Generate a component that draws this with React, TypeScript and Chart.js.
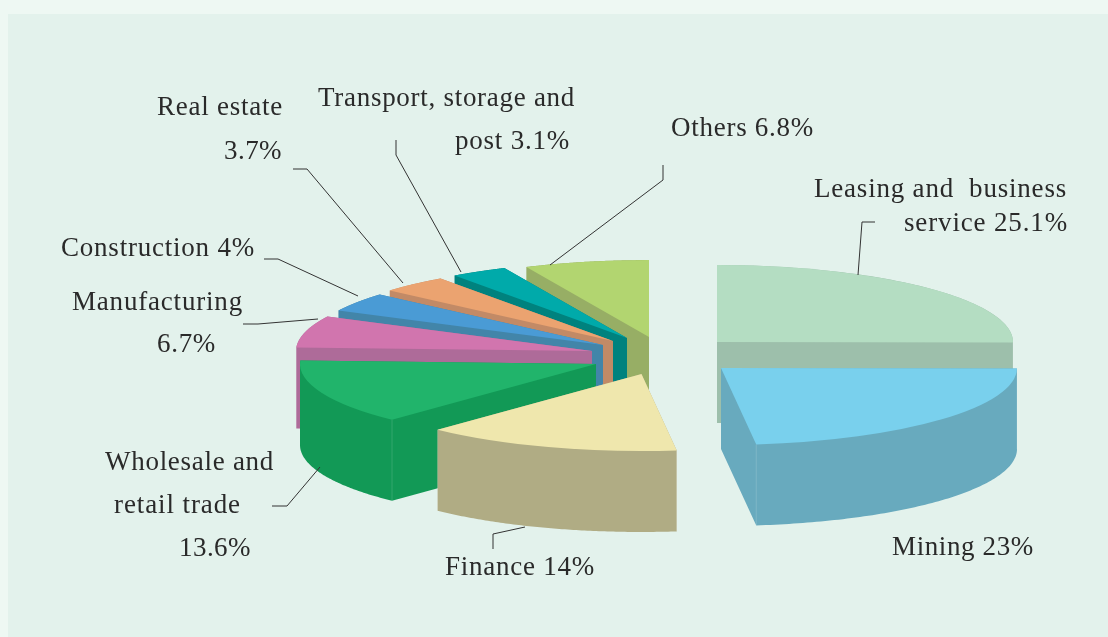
import React, { useEffect, useRef } from "react";
import { Chart, registerables } from "chart.js";

Chart.register(...registerables);

// ---- data ----
const categories = [
  "Leasing and business service",
  "Mining",
  "Finance",
  "Wholesale and retail trade",
  "Manufacturing",
  "Construction",
  "Real estate",
  "Transport, storage and post",
  "Others",
];
const shares = [25.1, 23, 14, 13.6, 6.7, 4, 3.7, 3.1, 6.8];

// ---- styles ----
const topColors = ["#b4ddc2", "#79d0ed", "#efe7ad", "#21b46b", "#d175ae", "#4a9bd5", "#eba370", "#00aaaa", "#b2d570"];
const wallColors = ["#9dbfab", "#68aabe", "#b0ac84", "#129956", "#ae6b99", "#4285a9", "#c28a66", "#00827e", "#97ae65"];

// exploded-view displacement of each slice from the pie centre, px
const explodeX = [67, 71, -8.5, -54, -58, -47, -37, -23, -1];
const explodeY = [1, 27, 33, 23, 10, 4, 0, -3, -4];
const paintOrder = [0, 8, 7, 6, 5, 4, 3, 2, 1];
const SQUASH = 0.26;
const DEPTH = 81;

// ---- annotations ----
// text, left edge, right edge, baseline
type Callout = [string, number, number, number];
const callouts: Callout[] = [
  ["Real estate", 157, 283, 115],
  ["3.7%", 224, 282, 159],
  ["Transport, storage and", 318, 575, 106],
  ["post 3.1%", 455, 570, 149],
  ["Others 6.8%", 671, 814, 136],
  ["Leasing and  business", 814, 1067, 197],
  ["service 25.1%", 904, 1068, 231],
  ["Construction 4%", 61, 255, 256],
  ["Manufacturing", 72, 243, 310],
  ["6.7%", 157, 216, 352],
  ["Wholesale and", 105, 274, 470],
  ["retail trade", 114, 241, 513],
  ["13.6%", 179, 251, 556],
  ["Finance 14%", 445, 595, 575],
  ["Mining 23%", 892, 1034, 555],
];
const leaders: number[][] = [
  [293, 169, 307, 169, 403, 283],
  [396, 140, 396, 155, 461, 272],
  [663, 165, 663, 180, 550, 265],
  [875, 222, 862, 222, 858, 275],
  [264, 259, 278, 259, 358, 296],
  [243, 324, 258, 324, 318, 319],
  [272, 506, 287, 506, 320, 467],
  [525, 527, 493, 534, 493, 549],
];

const pie3d = {
  id: "pie3d",
  beforeDatasetsDraw(chart: any) {
    const ctx: CanvasRenderingContext2D = chart.ctx;
    const arcs = chart.getDatasetMeta(0).data;
    for (const i of paintOrder) {
      const arc = arcs[i];
      const { x: cx, y: cy, startAngle, endAngle, outerRadius } = arc.getProps(
        ["x", "y", "startAngle", "endAngle", "outerRadius"],
        true
      );
      const ox = cx + explodeX[i];
      const oy = cy + explodeY[i];
      const rimPoint = (a: number): [number, number] => [
        ox + outerRadius * Math.cos(a),
        oy + outerRadius * SQUASH * Math.sin(a),
      ];
      // side walls: one path of same-wound quads swept down from the slice outline
      const outline: [number, number][] = [[ox, oy]];
      const steps = 90;
      for (let s = 0; s <= steps; s++) outline.push(rimPoint(startAngle + ((endAngle - startAngle) * s) / steps));
      ctx.save();
      ctx.beginPath();
      for (let k = 0; k < outline.length; k++) {
        const p = outline[k];
        const q = outline[(k + 1) % outline.length];
        const forward = q[0] - p[0] >= 0;
        const a = forward ? p : q;
        const b = forward ? q : p;
        ctx.moveTo(a[0], a[1]);
        ctx.lineTo(b[0], b[1]);
        ctx.lineTo(b[0], b[1] + DEPTH);
        ctx.lineTo(a[0], a[1] + DEPTH);
        ctx.closePath();
      }
      ctx.fillStyle = wallColors[i];
      ctx.fill("nonzero");
      // faint vertical seam at front-facing corners of the wall
      ctx.strokeStyle = "rgba(255,255,255,0.14)";
      ctx.lineWidth = 1;
      for (const a of [startAngle, endAngle]) {
        if (Math.sin(a) > 0) {
          const [px, py] = rimPoint(a);
          ctx.beginPath();
          ctx.moveTo(px, py);
          ctx.lineTo(px, py + DEPTH);
          ctx.stroke();
        }
      }
      // top surface: the library's own arc, squashed and displaced
      ctx.setTransform(1, 0, 0, SQUASH, ox, oy);
      ctx.translate(-cx, -cy);
      arc.draw(ctx);
      ctx.restore();
    }
    return false;
  },
  afterDraw(chart: any) {
    const ctx: any = chart.ctx;
    ctx.save();
    ctx.strokeStyle = "#333333";
    ctx.lineWidth = 1;
    for (const p of leaders) {
      ctx.beginPath();
      ctx.moveTo(p[0], p[1]);
      for (let k = 2; k < p.length; k += 2) ctx.lineTo(p[k], p[k + 1]);
      ctx.stroke();
    }
    ctx.fillStyle = "#2a2a2a";
    ctx.font = '27px "Liberation Serif"';
    ctx.textBaseline = "alphabetic";
    ctx.textAlign = "left";
    for (const [text, x0, x1, y] of callouts) {
      ctx.letterSpacing = "0px";
      const natural = ctx.measureText(text).width;
      ctx.letterSpacing = `${Math.max(0, (x1 - x0 - natural) / text.length).toFixed(2)}px`;
      ctx.fillText(text, x0, y);
    }
    ctx.restore();
  },
};

export default function App() {
  const ref = useRef<HTMLCanvasElement>(null);
  useEffect(() => {
    document.body.style.margin = "0";
    const chart = new Chart(ref.current!, {
      type: "pie",
      data: {
        labels: categories,
        datasets: [{ data: shares, backgroundColor: topColors, borderWidth: 0 }],
      },
      options: {
        responsive: false,
        animation: false,
        layout: { padding: { left: 192, right: 0, top: 45, bottom: 0 } },
        plugins: { legend: { display: false }, tooltip: { enabled: false } },
      },
      plugins: [pie3d],
    } as any);
    return () => chart.destroy();
  }, []);
  return (
    <div style={{ position: "absolute", left: 0, top: 0, width: 1108, height: 637, background: "#eef8f3", overflow: "hidden" }}>
      <div style={{ position: "absolute", left: 8, top: 14, right: 0, bottom: 0, background: "#e3f2ec" }} />
      <canvas ref={ref} width={1108} height={637} style={{ position: "absolute", left: 0, top: 0, display: "block" }} />
    </div>
  );
}
